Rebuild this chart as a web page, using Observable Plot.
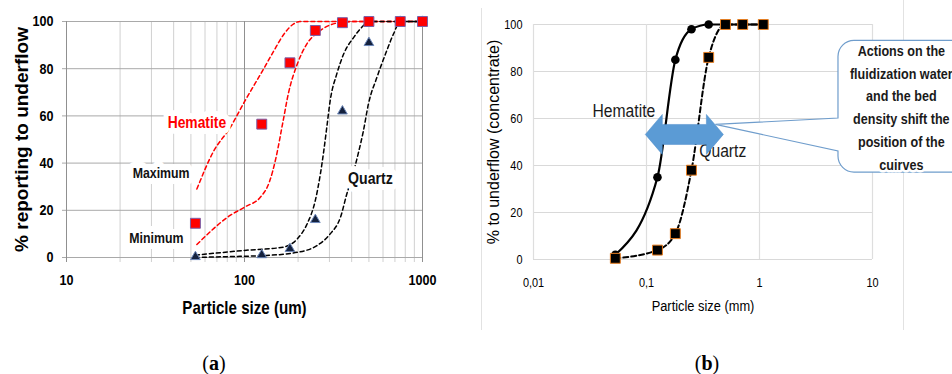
<!DOCTYPE html>
<html>
<head>
<meta charset="utf-8">
<script src="https://cdn.jsdelivr.net/npm/d3@7"></script>
<script src="https://cdn.jsdelivr.net/npm/@observablehq/plot@0.6"></script>
<style>
  html, body { margin: 0; padding: 0; background: #fff; }
  #page { position: relative; width: 952px; height: 374px; overflow: hidden; background: #fff; }
  #panelA { position: absolute; left: 0; top: 0; }
  #panelB { position: absolute; left: 470px; top: 0; }
  .frame { position: absolute; width: 1px; background: #e2e2e2; }
  .cap { position: absolute; top: 351px; width: 60px; margin-left: -30px; text-align: center;
         font-family: "Liberation Serif", "DejaVu Serif", serif; font-size: 20px; line-height: 24px; color: #000; }
</style>
</head>
<body>
<div id="page">
  <div class="frame" style="left:481px; top:8px; height:322px;"></div>
  <div class="frame" style="left:903px; top:0; height:330px;"></div>
  <div id="panelA"></div>
  <div id="panelB"></div>
  <div class="cap" style="left:214px;">(<b>a</b>)</div>
  <div class="cap" style="left:707px;">(<b>b</b>)</div>
</div>
<script>
// ---------------- Panel (a) data: particle size (um) vs % to underflow ----------------
const sizesA    = [53, 125, 180, 250, 355, 500, 750, 1000];
const hematiteA = [14.5, 56.5, 82.5, 96.2, 99.5, 100, 100, 100];
const quartzA   = [0.3, 1.1, 3.7, 16, 62, 91, 100, 100];

const hemMaxX = [54, 67, 83, 100, 126, 146, 166, 189, 205, 1000];
const hemMaxY = [29, 45, 55, 66, 79, 87.5, 94.5, 99, 100, 100];
const hemMinX = [54, 83, 101, 123, 138, 150, 164, 177, 198, 222, 265, 340, 420, 1000];
const hemMinY = [5.5, 17.8, 21.5, 25.6, 32, 42, 57, 70, 82, 90, 96, 99.5, 100, 100];
const qzMaxX  = [53, 100, 165, 198, 225, 250, 267, 279, 290, 303, 330, 361, 411, 466, 497, 1000];
const qzMaxY  = [1, 3, 4.4, 7.9, 14.3, 24.2, 35.5, 45.3, 55.2, 66.5, 77.8, 86.3, 93.3, 98.3, 100, 100];
const qzMinX  = [53, 83, 128, 198, 256, 303, 346, 376, 402, 435, 466, 497, 555, 620, 688, 750, 1000];
const qzMinY  = [0, 0.4, 0.8, 2.2, 5.1, 10, 17, 27, 34, 43.9, 53.8, 65.1, 76.4, 86.3, 94.8, 100, 100];

const xTicksA = [10, 100, 1000];
const xMinorA = [20, 30, 40, 50, 60, 70, 80, 90, 200, 300, 400, 500, 600, 700, 800, 900];
const yTicks  = [0, 20, 40, 60, 80, 100];

// ---------------- Panel (b) data: particle size (mm) vs % to underflow (concentrate) ----------------
const sizesB    = [0.053, 0.125, 0.18, 0.25, 0.355, 0.5, 0.71, 1.08];
const hematiteB = [2, 35, 85, 98, 100, 100, 100, 100];
const quartzB   = [0.5, 4, 11, 38, 86, 100, 100, 100];
const xTicksB   = [0.01, 0.1, 1, 10];
const calloutLines = ["Actions on the", "fluidization water", "and the bed", "density shift the", "position of the", "cuirves"];

const FONT = "'Liberation Sans', Arial, sans-serif";
const SQUEEZE = 0.84; // horizontal text is condensed in the reference

const pts = (xs, ys) => xs.map((x, i) => ({x, y: ys[i]}));

function squeeze(svg, s) {
  svg.querySelectorAll("text").forEach(t => {
    let tr = t.getAttribute("transform");
    if (tr && /rotate/.test(tr)) return;
    if (!tr) {
      const x = +(t.getAttribute("x") || 0), y = +(t.getAttribute("y") || 0);
      t.removeAttribute("x"); t.removeAttribute("y");
      tr = `translate(${x},${y})`;
    }
    t.setAttribute("transform", tr + ` scale(${s},1)`);
  });
}

// ---------------- Panel (a) ----------------
const dashA = {x: "x", y: "y", curve: "monotone-x", strokeWidth: 1.5, strokeDasharray: "4,3"};
const halo = {stroke: "white", strokeWidth: 12, strokeLinejoin: "round"};
const plotA = Plot.plot({
  width: 470, height: 330,
  marginLeft: 66, marginRight: 48, marginTop: 21, marginBottom: 73,
  x: {type: "log", domain: [10, 1000]},
  y: {domain: [0, 100]},
  style: {background: "transparent", fontFamily: FONT, overflow: "visible", color: "#000"},
  marks: [
    Plot.ruleX(xMinorA, {stroke: "#d0d0d0", strokeWidth: 1, insetBottom: -5}),
    Plot.ruleY(yTicks, {stroke: "#a9a9a9", strokeWidth: 1, insetLeft: -4}),
    Plot.ruleX(xTicksA, {stroke: "#909090", strokeWidth: 1, insetBottom: -5}),
    Plot.axisX(xTicksA, {tickSize: 0, tickPadding: 17, tickFormat: d => String(d), fontSize: 15, fontWeight: "bold", label: null}),
    Plot.axisY(yTicks, {tickSize: 0, tickPadding: 13, tickFormat: d => String(d), fontSize: 15, fontWeight: "bold", label: null}),
    Plot.text(["% reporting to underflow"], {text: d => d, frameAnchor: "left", textAnchor: "middle", lineAnchor: "middle", dx: -45, rotate: -90, fontSize: 19, fontWeight: "bold"}),
    Plot.text(["Particle size (um)"], {text: d => d, frameAnchor: "bottom", textAnchor: "middle", lineAnchor: "middle", dy: 51, fontSize: 18, fontWeight: "bold"}),
    Plot.line(pts(hemMaxX, hemMaxY), {...dashA, stroke: "#ff0000"}),
    Plot.line(pts(hemMinX, hemMinY), {...dashA, stroke: "#ff0000"}),
    Plot.line(pts(qzMaxX, qzMaxY), {...dashA, stroke: "#000"}),
    Plot.line(pts(qzMinX, qzMinY), {...dashA, stroke: "#000"}),
    Plot.text([[54, 57, "Hematite"]], {x: d => d[0], y: d => d[1], text: d => d[2], fill: "#ff0000", fontSize: 16.5, fontWeight: "bold", ...halo}),
    Plot.text([[34, 35.6, "Maximum"], [32, 8, "Minimum"]], {x: d => d[0], y: d => d[1], text: d => d[2], fill: "#111", fontSize: 14.7, fontWeight: "bold", ...halo}),
    Plot.text([[510, 33.5, "Quartz"]], {x: d => d[0], y: d => d[1], text: d => d[2], fill: "#111", fontSize: 16.8, fontWeight: "bold", ...halo}),
    Plot.dot(pts(sizesA, quartzA), {x: "x", y: "y", symbol: "triangle", r: 3.6, fill: "#14213d", stroke: "#6b86b8", strokeWidth: 1}),
    Plot.dot(pts(sizesA, hematiteA), {x: "x", y: "y", symbol: "square", r: 5.6, fill: "#ff0000", stroke: "#7a5fa8", strokeWidth: 1})
  ]
});
squeeze(plotA, SQUEEZE);
document.getElementById("panelA").append(plotA);

// ---------------- Panel (b) ----------------
const arrowFrom = 0.0986, arrowTo = 0.484, arrowY = 53;

function blockArrow(index, scales) {
  const xa = scales.x(arrowFrom), xb = scales.x(arrowTo), yc = scales.y(arrowY);
  const hl = 17, bh = 10, hh = 20;
  const d = `M${xa},${yc} L${xa + hl},${yc - hh} L${xa + hl},${yc - bh} L${xb - hl},${yc - bh} L${xb - hl},${yc - hh}` +
            ` L${xb},${yc} L${xb - hl},${yc + hh} L${xb - hl},${yc + bh} L${xa + hl},${yc + bh} L${xa + hl},${yc + hh} Z`;
  return d3.create("svg:path").attr("d", d).attr("fill", "#5b9bd5").attr("stroke", "#4a8ac8").attr("stroke-width", 0.5).node();
}

function callout(index, scales, values, dimensions) {
  const xb = scales.x(arrowTo), yc = scales.y(arrowY);
  const tipX = xb - 8, tipY = yc - 10;
  const L = scales.x(5), T = scales.y(93), B = scales.y(37), R = dimensions.width + 40, r = 16;
  const pA = scales.y(60), pB = scales.y(46);
  const d = `M${tipX},${tipY} L${L},${pA} L${L},${T + r} A${r},${r} 0 0 1 ${L + r},${T} L${R},${T} L${R},${B}` +
            ` L${L + r},${B} A${r},${r} 0 0 1 ${L},${B - r} L${L},${pB} Z`;
  return d3.create("svg:path").attr("d", d).attr("fill", "white").attr("stroke", "#6f9dcc").attr("stroke-width", 1.2).node();
}

const plotB = Plot.plot({
  width: 482, height: 330,
  marginLeft: 63, marginRight: 80, marginTop: 24, marginBottom: 71,
  x: {type: "log", domain: [0.01, 10]},
  y: {domain: [0, 100]},
  style: {background: "transparent", fontFamily: FONT, overflow: "visible", color: "#000"},
  marks: [
    Plot.ruleY(yTicks, {stroke: "#d9d9d9", strokeWidth: 1.2}),
    Plot.ruleX(xTicksB, {stroke: "#dedede", strokeWidth: 1.2}),
    Plot.axisX(xTicksB, {tickSize: 0, tickPadding: 18, tickFormat: d => String(d).replace(".", ","), fontSize: 13, label: null}),
    Plot.axisY(yTicks, {tickSize: 0, tickPadding: 11, tickFormat: d => String(d), fontSize: 13, label: null}),
    Plot.text(["% to underflow (concentrate)"], {text: d => d, frameAnchor: "left", textAnchor: "middle", lineAnchor: "middle", dx: -40, rotate: -90, fontSize: 16}),
    Plot.text(["Particle size (mm)"], {text: d => d, frameAnchor: "bottom", textAnchor: "middle", lineAnchor: "middle", dy: 47, fontSize: 15.3}),
    callout,
    Plot.text(calloutLines, {x: () => 18, y: (d, i) => 88.7 - i * 9.7, text: d => d, fill: "#1a1a1a", fontSize: 15, fontWeight: "bold", stroke: "white", strokeWidth: 5}),
    Plot.line(pts(sizesB, hematiteB), {x: "x", y: "y", curve: "monotone-x", stroke: "#000", strokeWidth: 2.2}),
    Plot.line(pts(sizesB, quartzB), {x: "x", y: "y", curve: "monotone-x", stroke: "#000", strokeWidth: 2, strokeDasharray: "5,3"}),
    Plot.dot(pts(sizesB, hematiteB), {x: "x", y: "y", r: 4.3, fill: "#000"}),
    Plot.dot(pts(sizesB, quartzB), {x: "x", y: "y", symbol: "square", r: 5.6, fill: "#000", stroke: "#e67e22", strokeWidth: 1}),
    Plot.text([[0.063, 63, "Hematite"], [0.473, 46, "Quartz"]], {x: d => d[0], y: d => d[1], text: d => d[2], fill: "#1a1a1a", fontSize: 18.7}),
    blockArrow
  ]
});
squeeze(plotB, SQUEEZE);
document.getElementById("panelB").append(plotB);
</script>
</body>
</html>
